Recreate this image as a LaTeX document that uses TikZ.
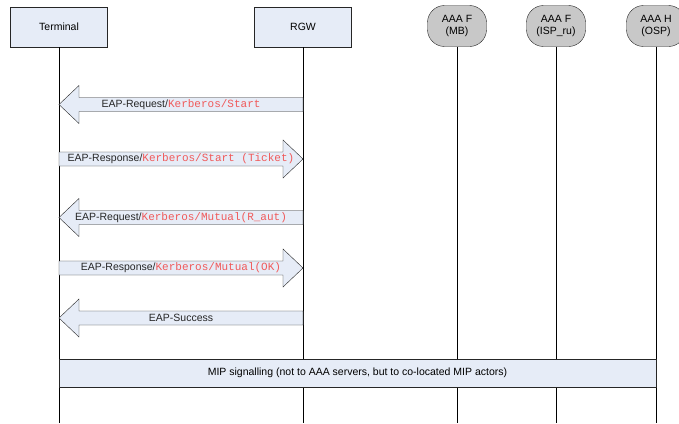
\documentclass[tikz,border=0pt]{standalone}
\usepackage{fontspec}
\setmainfont{Liberation Sans}
\newfontfamily\monofont{Liberation Mono}
\usetikzlibrary{calc}
\definecolor{boxfill}{HTML}{E6ECF7}
\definecolor{msgred}{HTML}{F05A5A}
\definecolor{srvfill}{HTML}{C8C8C8}
\newcommand\sfsz{\fontsize{10.5}{12.5}\selectfont}
\newcommand\red[1]{{\monofont\fontsize{11}{12}\selectfont\color{msgred}#1}}
\newcommand\larrow[3]{%
  \draw[msg] (#1) -- ++(20,-19) -- ++(0,12) -- ($(#2)+(0,-7)$) -- ($(#2)+(0,7)$) -- ($(#1)+(20,7)$) -- ++(0,12) -- cycle;
  \node[msgtext] at ($(#1)!0.5!(#2)$) {#3};}
\newcommand\rarrow[3]{%
  \draw[msg] (#2) -- ++(-20,-19) -- ++(0,12) -- ($(#1)+(0,-7)$) -- ($(#1)+(0,7)$) -- ($(#2)+(-20,7)$) -- ++(0,12) -- cycle;
  \node[msgtext] at ($(#1)!0.5!(#2)$) {#3};}
\begin{document}
\begin{tikzpicture}[x=1pt,y=-1pt,
  actor/.style={draw=black!85, fill=boxfill, minimum width=97pt, minimum height=40pt, font=\sfsz, inner sep=0pt},
  server/.style={draw=black!85, fill=srvfill, rounded corners=17pt, minimum width=59pt, minimum height=41pt, align=center, font=\sfsz, inner sep=1pt},
  msg/.style={draw=black!85, fill=boxfill, line join=miter},
  msgtext/.style={font=\sfsz, text=black!85, inner sep=0pt},
  life/.style={draw=black, line width=0.6pt},
  band/.style={draw=black!85, fill=boxfill, minimum width=597pt, minimum height=28pt, font=\sfsz, inner sep=0pt}]
\useasboundingbox (0,0) rectangle (679,423);
\fill[white] (0,0) rectangle (679,423);
% actors
\node[actor] (term) at (59,27) {Terminal};
\node[actor] (rgw) at (303,27) {RGW};
\node[server] (mb) at (457,26) {AAA F\\(MB)};
\node[server] (isp) at (556,26) {AAA F\\(ISP\_ru)};
\node[server] (osp) at (656,26) {AAA H\\(OSP)};
% lifeline ends
\coordinate (termE) at (59,423);
\coordinate (rgwE) at (303,423);
\coordinate (mbE) at (457,423);
\coordinate (ispE) at (556,423);
\coordinate (ospE) at (656,423);
\draw[life] (term.south) -- (termE);
\draw[life] (rgw.south) -- (rgwE);
\draw[life] (mb.south) -- (mbE);
\draw[life] (isp.south) -- (ispE);
\draw[life] (osp.south) -- (ospE);
% message anchor points
\coordinate (t1) at (59,104.5);  \coordinate (r1) at (303,104.5);
\coordinate (t2) at (59,159);    \coordinate (r2) at (303,159);
\coordinate (t3) at (59,217.5);  \coordinate (r3) at (303,217.5);
\coordinate (t4) at (59,268);    \coordinate (r4) at (303,268);
\coordinate (t5) at (59,318);    \coordinate (r5) at (303,318);
\larrow{t1}{r1}{EAP-Request/\red{Kerberos/Start}}
\rarrow{t2}{r2}{EAP-Response/\red{Kerberos/Start (Ticket)}}
\larrow{t3}{r3}{EAP-Request/\red{Kerberos/Mutual(R\_aut)}}
\rarrow{t4}{r4}{EAP-Response/\red{Kerberos/Mutual(OK)}}
\larrow{t5}{r5}{EAP-Success}
% MIP band
\node[band] (mip) at (357.5,373) {MIP signalling (not to AAA servers, but to co-located MIP actors)};
\end{tikzpicture}
\end{document}
